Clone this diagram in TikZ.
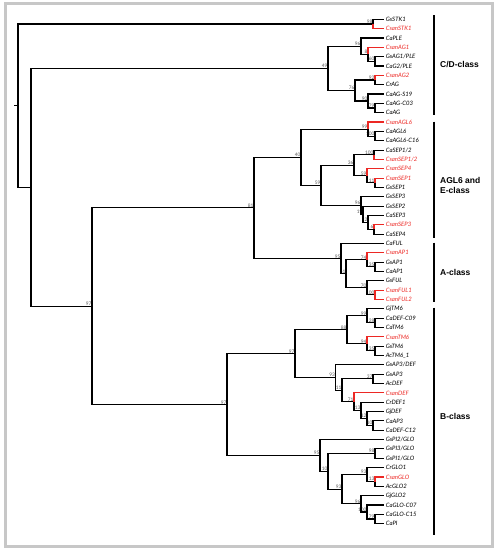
\documentclass[tikz,border=0pt]{standalone}
\usepackage{fontspec}
\setmainfont{Liberation Sans}
\newfontfamily\taxonfont{Lato}
\definecolor{csan}{RGB}{236,40,36}
\tikzset{
  leaf/.style={anchor=west, inner sep=1.6pt, font=\taxonfont\itshape\fontsize{6}{6}\selectfont},
  boot/.style={anchor=south east, inner sep=0.4pt, text=black!65, font=\taxonfont\fontsize{4.8}{5}\selectfont},
  branch/.style={line width=1.1pt},
  cladebar/.style={line width=1.2pt},
  clade/.style={anchor=west, align=left, inner sep=0pt, font=\bfseries\fontsize{8.5}{10.5}\selectfont},
}
\begin{document}
\begin{tikzpicture}[x=1pt,y=-1pt]
    \useasboundingbox (0,0) rectangle (498,550);
    \draw[black!22, line width=3pt] (5,3.5) rectangle (492.5,546.5);
    % leaves
    \foreach \nm/\txt/\clr [count=\i from 0] in {
      stk1/GsSTK1/black, stk2/CsanSTK1/csan, ple/CaPLE/black, ag1/CsanAG1/csan,
      gsag1/{GsAG1/PLE}/black, cag2/{CaG2/PLE}/black, ag2/CsanAG2/csan, crag/CrAG/black,
      cas19/CaAG-S19/black, cac03/CaAG-C03/black, caag/CaAG/black, agl6/CsanAGL6/csan,
      caagl6/CaAGL6/black, agl6c16/CaAGL6-C16/black, sep12/{CaSEP1/2}/black, csep12/{CsanSEP1/2}/csan,
      csep4/CsanSEP4/csan, csep1/CsanSEP1/csan, gsep1/GsSEP1/black, gsep3/GsSEP3/black,
      gsep2/GsSEP2/black, casep3/CaSEP3/black, csep3/CsanSEP3/csan, casep4/CaSEP4/black,
      caful/CaFUL/black, cap1/CsanAP1/csan, gsap1/GsAP1/black, caap1/CaAP1/black,
      gsful/GsFUL/black, cful1/CsanFUL1/csan, cful2/CsanFUL2/csan, gjtm6/GjTM6/black,
      cadef9/CaDEF-C09/black, catm6/CaTM6/black, ctm6/CsanTM6/csan, gstm6/GsTM6/black,
      actm6/AcTM6\_1/black, gsap3def/{GsAP3/DEF}/black, gsap3/GsAP3/black, acdef/AcDEF/black,
      cdef/CsanDEF/csan, crdef/CrDEF1/black, gjdef/GjDEF/black, caap3/CaAP3/black,
      cadef12/CaDEF-C12/black, pi2/{GsPI2/GLO}/black, pi3/{GsPI3/GLO}/black, pi1/{GsPI1/GLO}/black,
      crglo/CrGLO1/black, cglo/CsanGLO/csan, acglo/AcGLO2/black, gjglo/GjGLO2/black,
      glo7/CaGLO-C07/black, glo15/CaGLO-C15/black, capi/CaPI/black}{
      \node[leaf, text=\clr] (\nm) at (384, {19.3+9.34*\i}) {\txt};
    }
    % internal nodes
    \foreach \nm/\x/\y in {
      nstk/373/23.97, ngs/375/61.33, nag1/368/54.33, nple/361/46.15, nag2/375/80.01,
      nac/375/108.03, nag/368/101.03, ncag/355/90.52, ncd/328/68.34,
      nagl6b/375/136.05, nagl6/368/129.05, nsep12/374/154.73, nsep1/375/182.75,
      nsep4/367/175.75, nsep36/354/165.24, nsep6/374/229.45, nsepb/368/222.45,
      nsepc/363/214.27, nsep96/361/205.52, nsep59/321/185.38, ne40/301/157.21,
      na35/375/266.81, na74/367/259.81, na100/375/294.83, na70/367/287.83,
      na61/346/273.82, na95/341/258.64, n81/254/207.93,
      nb28/375/322.85, nb99/367/315.85, nb35/375/350.87, nb94/367/343.87, nb88/347/329.86,
      nb37/373/378.89, nb10/373/425.59, nb12/367/418.59, nb13/361/410.41, nb71/354/401.66,
      nb11/342/390.27, nb93/335.5/377.58, nb97/295/353.72,
      np98/375/453.61, np13/375/481.63, np93b/367/474.63, np79/375/518.99, np100/367/511.99,
      np96/361/503.81, np93a/342/489.22, np10/328/471.42, np95/320/455.51,
      nb/227/404.62, n92/92/306.28, n31/31/187.31, root/18/105.64}{
      \coordinate (\nm) at (\x,\y);
    }
    % bootstrap values
    \foreach \nm/\v in {
      nstk/98, nple/96, nag1/8, ngs/60, nag2/92, nag/90, nac/79, ncag/76, ncd/49,
      nagl6/99, nagl6b/100, nsep12/100, nsep4/59, nsep1/11, nsep36/36, nsep96/96,
      nsepc/19, nsepb/12, nsep6/6, nsep59/59, ne40/40, n81/81,
      na95/95, na61/61, na74/74, na35/35, na70/70, na100/100,
      nb99/99, nb28/28, nb94/94, nb35/35, nb88/88, nb97/97, nb93/93, nb11/11,
      nb37/37, nb71/71, nb13/13, nb12/12, nb10/10,
      np95/95, np10/10, np98/98, np93a/93, np93b/93, np13/13, np96/96, np100/100, np79/79,
      nb/97, n92/97}{
      \node[boot] (b-\nm) at (\nm) {\v};
    }
    % branches
    \foreach \p/\c/\clr in {
      root/nstk/black, root/n31/black, nstk/stk1/black, nstk/stk2/csan,
      n31/ncd/black, n31/n92/black,
      ncd/nple/black, ncd/ncag/black, nple/ple/black, nple/nag1/black, nag1/ag1/csan, nag1/ngs/black,
      ngs/gsag1/black, ngs/cag2/black, ncag/nag2/black, ncag/nag/black, nag2/ag2/csan, nag2/crag/black,
      nag/cas19/black, nag/nac/black, nac/cac03/black, nac/caag/black,
      n92/n81/black, n92/nb/black, n81/ne40/black, n81/na95/black,
      ne40/nagl6/black, ne40/nsep59/black, nagl6/agl6/csan, nagl6/nagl6b/black,
      nagl6b/caagl6/black, nagl6b/agl6c16/black, nsep59/nsep36/black, nsep59/nsep96/black,
      nsep36/nsep12/black, nsep36/nsep4/black, nsep12/sep12/black, nsep12/csep12/csan,
      nsep4/csep4/csan, nsep4/nsep1/black, nsep1/csep1/csan, nsep1/gsep1/black,
      nsep96/gsep3/black, nsep96/nsepc/black, nsepc/gsep2/black, nsepc/nsepb/black,
      nsepb/casep3/black, nsepb/nsep6/black, nsep6/csep3/csan, nsep6/casep4/black,
      na95/caful/black, na95/na61/black, na61/na74/black, na61/na70/black,
      na74/cap1/csan, na74/na35/black, na35/gsap1/black, na35/caap1/black,
      na70/gsful/black, na70/na100/black, na100/cful1/csan, na100/cful2/csan,
      nb/nb97/black, nb/np95/black, nb97/nb88/black, nb97/nb93/black,
      nb88/nb99/black, nb88/nb94/black, nb99/gjtm6/black, nb99/nb28/black,
      nb28/cadef9/black, nb28/catm6/black, nb94/ctm6/csan, nb94/nb35/black,
      nb35/gstm6/black, nb35/actm6/black, nb93/gsap3def/black, nb93/nb11/black,
      nb11/nb37/black, nb11/nb71/black, nb37/gsap3/black, nb37/acdef/black,
      nb71/cdef/csan, nb71/nb13/black, nb13/crdef/black, nb13/nb12/black,
      nb12/gjdef/black, nb12/nb10/black, nb10/caap3/black, nb10/cadef12/black,
      np95/pi2/black, np95/np10/black, np10/np98/black, np10/np93a/black,
      np98/pi3/black, np98/pi1/black, np93a/np93b/black, np93a/np96/black,
      np93b/crglo/black, np93b/np13/black, np13/cglo/csan, np13/acglo/black,
      np96/gjglo/black, np96/np100/black, np100/glo7/black, np100/np79/black,
      np79/glo15/black, np79/capi/black}{
      \draw[branch, draw=\clr] (\p) |- (\c);
    }
    \draw[branch] (root) -- ++(-4,0);
    % clade bars and names
    \draw[cladebar] (434,15) -- (434,114.5);
    \draw[cladebar] (434,121.5) -- (434,237.5);
    \draw[cladebar] (434,242.5) -- (434,302);
    \draw[cladebar] (434,307.5) -- (434,535);
    \node[clade] (cd) at (440,65) {C/D-class};
    \node[clade] (agle) at (440,185.5) {AGL6 and\\E-class};
    \node[clade] (acl) at (440,272.5) {A-class};
    \node[clade] (bcl) at (440,416.5) {B-class};
  \end{tikzpicture}
\end{document}
